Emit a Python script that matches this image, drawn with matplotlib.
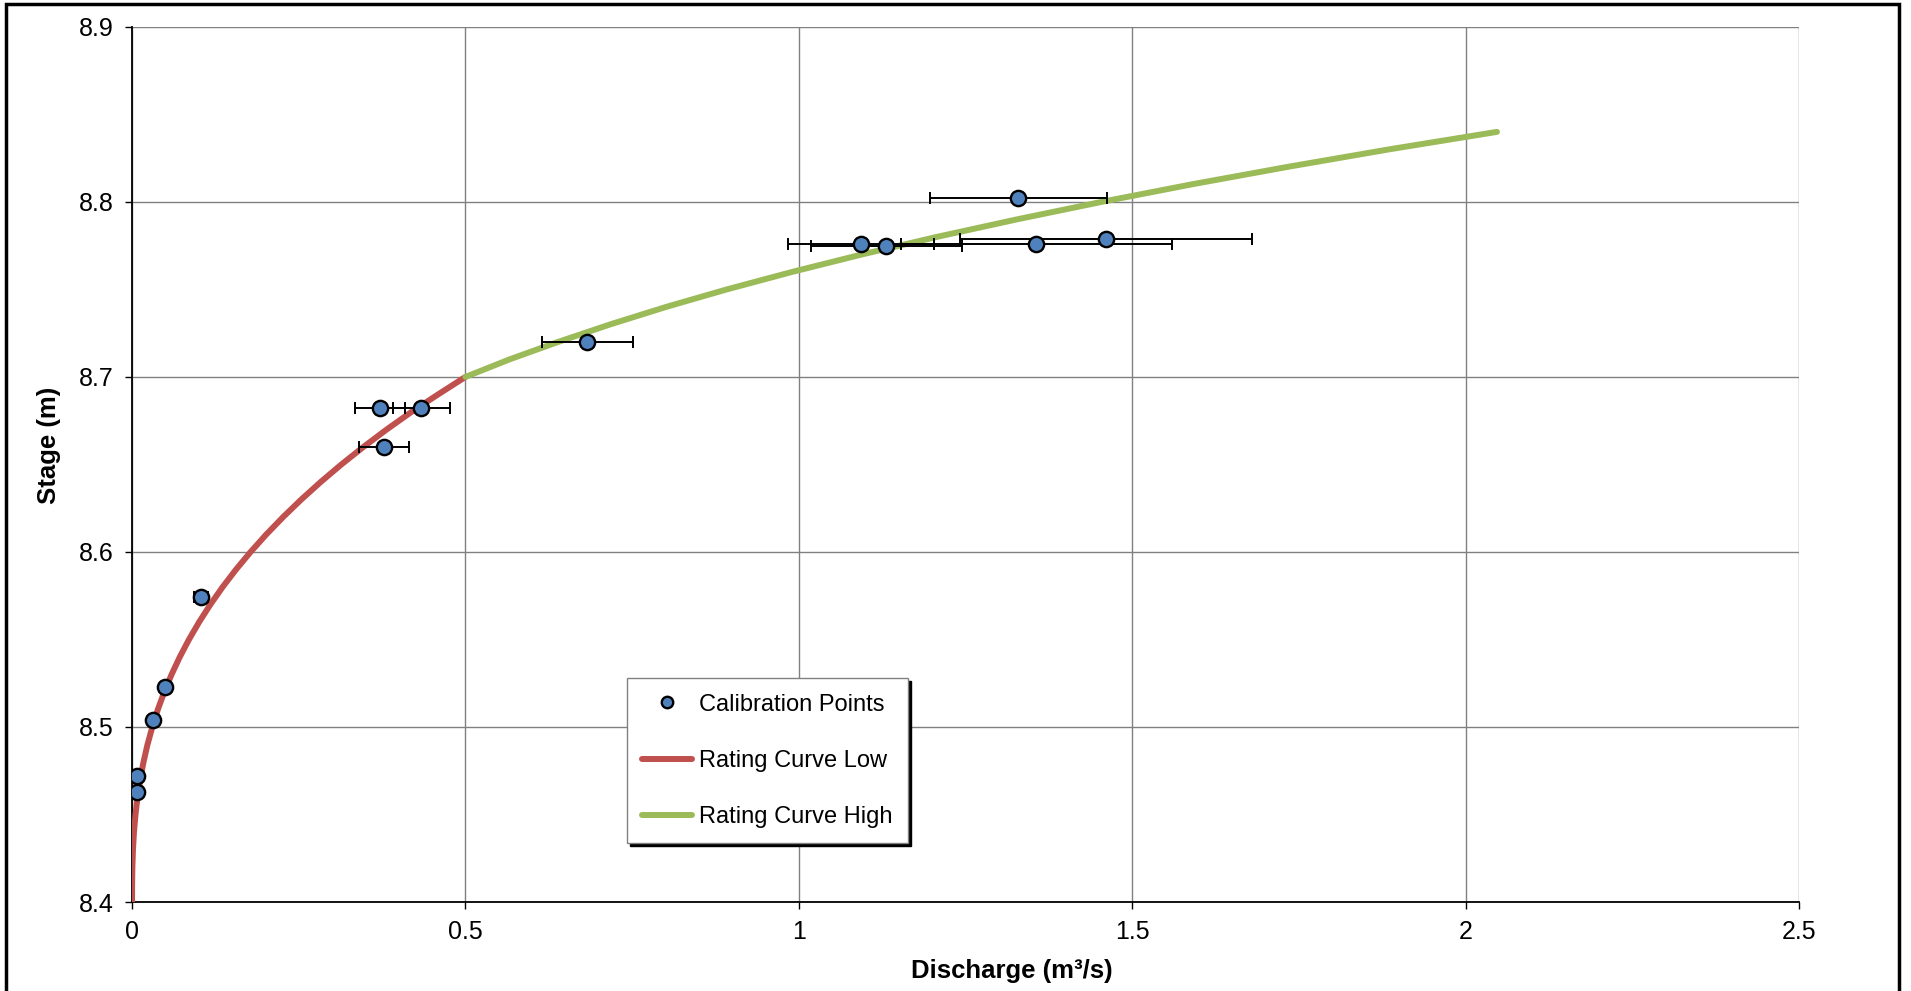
import matplotlib
matplotlib.use("Agg")
import matplotlib.pyplot as plt
from matplotlib.patches import Rectangle

plt.rcParams['font.family'] = ['Liberation Sans', 'DejaVu Sans']

# calibration gaugings (discharge m3/s, stage m, discharge uncertainty)
calib_q = [0.0075, 0.0080, 0.032, 0.050, 0.103, 0.378, 0.372, 0.434,
           0.683, 1.093, 1.131, 1.329, 1.356, 1.460]
calib_h = [8.472, 8.463, 8.504, 8.523, 8.574, 8.660, 8.682, 8.682,
           8.720, 8.776, 8.775, 8.802, 8.776, 8.779]
calib_err = [0.0008, 0.0008, 0.0032, 0.005, 0.0103, 0.038, 0.037, 0.043,
             0.068, 0.109, 0.113, 0.133, 0.203, 0.219]

# rating curve, low section
low_h = [8.40, 8.41, 8.42, 8.43, 8.44, 8.45, 8.46, 8.47, 8.48, 8.49, 8.50,
         8.51, 8.52, 8.53, 8.54, 8.55, 8.56, 8.57, 8.58, 8.59, 8.60,
         8.61, 8.62, 8.63, 8.64, 8.65, 8.66, 8.67, 8.68, 8.69, 8.70]
low_q = [0.0, 0.0001, 0.0005, 0.0014, 0.0029, 0.0052, 0.0082, 0.0122, 0.0172, 0.0232, 0.0304,
         0.0387, 0.0483, 0.0593, 0.0716, 0.0854, 0.1007, 0.1175, 0.1359, 0.156, 0.1778,
         0.2013, 0.2267, 0.2539, 0.283, 0.314, 0.347, 0.382, 0.419, 0.459, 0.500]

# rating curve, high section
high_h = [8.70, 8.71, 8.72, 8.73, 8.74, 8.75, 8.76, 8.77, 8.78, 8.79, 8.80,
          8.81, 8.82, 8.83, 8.84]
high_q = [0.500, 0.566, 0.639, 0.717, 0.801, 0.892, 0.990, 1.095, 1.207, 1.327, 1.454,
          1.589, 1.733, 1.885, 2.047]

x_ticks = [0, 0.5, 1, 1.5, 2, 2.5]
x_tick_labels = ['0', '0.5', '1', '1.5', '2', '2.5']
y_ticks = [8.4, 8.5, 8.6, 8.7, 8.8, 8.9]
y_tick_labels = ['8.4', '8.5', '8.6', '8.7', '8.8', '8.9']

fig = plt.figure(figsize=(19.11, 9.91), dpi=100)
ax = fig.add_axes([0.0691, 0.0898, 0.8723, 0.8831])

ax.plot(low_q, low_h, color='#C0504D', lw=4.3, solid_capstyle='round',
        label='Rating Curve Low', zorder=3)
ax.plot(high_q, high_h, color='#9BBB59', lw=4.3, solid_capstyle='round',
        label='Rating Curve High', zorder=3)
ax.errorbar(calib_q, calib_h, xerr=calib_err, fmt='none', ecolor='black',
            elinewidth=1.4, capsize=4, capthick=1.4, zorder=4)
ax.plot(calib_q, calib_h, 'o', ms=11, mfc='#4F81BD', mec='black', mew=1.7,
        label='Calibration Points', zorder=5)

ax.set_xlim(0, 2.5)
ax.set_ylim(8.4, 8.9)
ax.set_xticks(x_ticks)
ax.set_xticklabels(x_tick_labels)
ax.set_yticks(y_ticks)
ax.set_yticklabels(y_tick_labels)
ax.tick_params(direction='out', length=5, width=1, pad=8, labelsize=18)
ax.grid(True, color='#808080', lw=1)
ax.set_axisbelow(True)
for side in ['top', 'right']:
    ax.spines[side].set_visible(False)
for side in ['left', 'bottom']:
    ax.spines[side].set_color('black')
    ax.spines[side].set_linewidth(1.3)

ax.set_xlabel('Discharge (m³/s)', fontsize=18.5, fontweight='bold', labelpad=11, x=0.528)
ax.set_ylabel('Stage (m)', fontsize=18.5, fontweight='bold', labelpad=13, y=0.522)

handles, labels = ax.get_legend_handles_labels()
order = [labels.index('Calibration Points'), labels.index('Rating Curve Low'),
         labels.index('Rating Curve High')]
leg = ax.legend([handles[i] for i in order], [labels[i] for i in order],
                loc='lower left', bbox_to_anchor=(0.297, 0.067), fontsize=17,
                frameon=True, fancybox=False, shadow={'color': 'black', 'alpha': 1},
                labelspacing=1.45, handlelength=2.1, handletextpad=0.3,
                borderpad=0.65, borderaxespad=0, markerscale=0.75)
leg.get_frame().set_edgecolor('#808080')
leg.get_frame().set_linewidth(1)
leg.get_frame().set_alpha(1)

# chart border
fig.patches.append(Rectangle((6 / 1911, -0.02), 1893 / 1911, 1.016,
                             transform=fig.transFigure, fill=False,
                             ec='black', lw=2.5))

fig.savefig('out.png', dpi=100)
